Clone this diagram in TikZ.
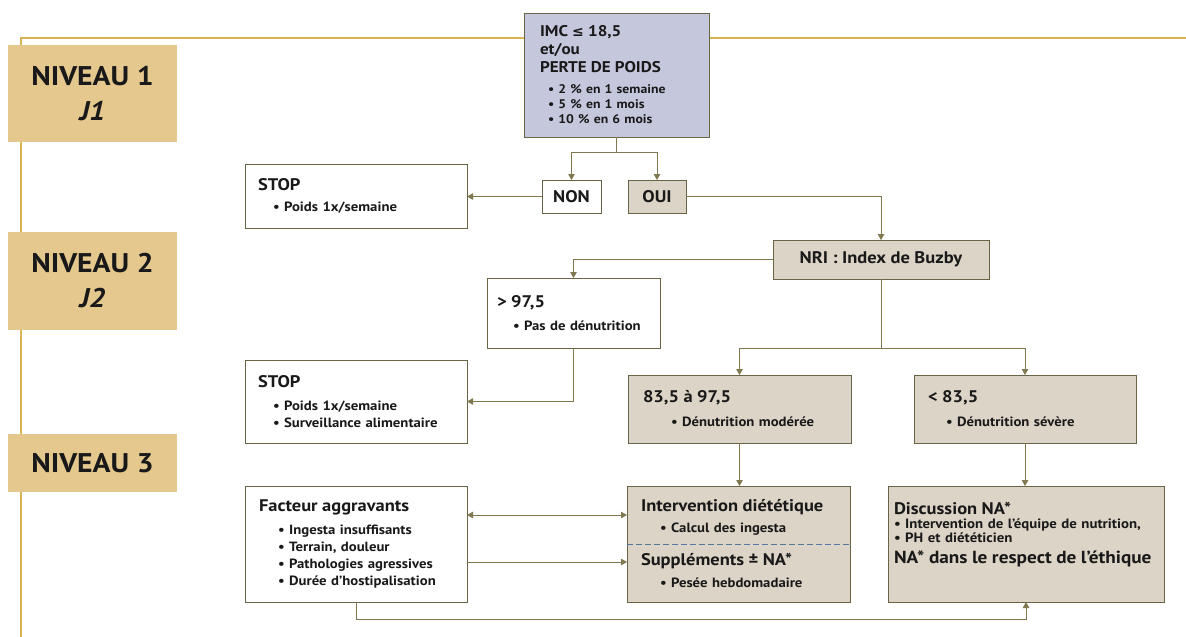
\documentclass[tikz,border=0pt]{standalone}
\usepackage{fontspec}
\setmainfont{PT Sans}[FakeStretch=1.1]
\newfontfamily\dejavu{DejaVu Sans}
\usetikzlibrary{arrows.meta,calc}
\definecolor{gold}{RGB}{214,180,86}
\definecolor{tanf}{RGB}{229,200,142}
\definecolor{lav}{RGB}{197,199,221}
\definecolor{beige}{RGB}{220,212,198}
\definecolor{olive}{RGB}{128,120,78}
\definecolor{bord}{RGB}{105,100,70}
\definecolor{txt}{RGB}{25,25,25}
\definecolor{dashblue}{RGB}{80,120,160}
\newcommand\ttl[1]{{\fontsize{16.8}{17}\selectfont\bfseries #1}}
\newcommand\ittl[1]{{\fontsize{15.5}{17}\selectfont\bfseries #1}}
\newcommand\bx[8]{%
 \pgfmathsetmacro\bw{#5-#3}%
 \pgfmathsetmacro\bh{#6-#4}%
 \pgfmathsetmacro\tw{#5-#3-2*#7}%
 \node[align=left,#1,anchor=north west,minimum width=\bw pt,minimum height=\bh pt,text width=\tw pt,inner xsep=#7 pt,inner ysep=0pt] (#2) at (#3,#4) {#8};}
\begin{document}
\begin{tikzpicture}[x=1pt,y=-1pt,
 >={Triangle[length=6pt,width=6.5pt]},
 box/.style={draw=bord,line width=0.9pt,outer sep=0pt,text=txt,font=\fontsize{13.4}{17}\selectfont\bfseries},
 wbox/.style={box,fill=white},
 bbox/.style={box,fill=beige},
 lbox/.style={box,fill=lav},
 lvl/.style={fill=tanf,draw=none,text=txt,font=\fontsize{27}{35}\selectfont\bfseries,align=center,anchor=north west,inner sep=0pt,outer sep=0pt},
 conn/.style={draw=olive,line width=1pt},
 arr/.style={conn,->},
 darr/.style={conn,<->},
 dashline/.style={draw=dashblue,line width=0.8pt,dash pattern=on 6pt off 3pt}]
\useasboundingbox (0,0) rectangle (1186,637);
\fill[white] (0,0) rectangle (1186,637);
% frame lines
\draw[gold,line width=1.6pt] (21,637) -- (21,38) -- (1186,38);
% level labels
\node[lvl,minimum width=169pt,minimum height=97pt] (n1) at (8,45) {NIVEAU 1\\\textit{J1}};
\node[lvl,minimum width=169pt,minimum height=98pt] (n2) at (8,232) {NIVEAU 2\\\textit{J2}};
\node[lvl,minimum width=169pt,minimum height=58pt] (n3) at (8,434) {NIVEAU 3};
% boxes
\bx{lbox,font=\fontsize{12.5}{15}\selectfont\bfseries}{imc}{524}{13}{709}{137}{16}{\ittl{IMC {\dejavu\fontsize{14}{15}\selectfont ≤} 18,5}\\[3pt]\ittl{et/ou}\\[3pt]\ittl{PERTE DE POIDS}\\[6pt]\hspace*{8pt}• 2 \% en 1 semaine\\\hspace*{8pt}• 5 \% en 1 mois\\\hspace*{8pt}• 10 \% en 6 mois}
\bx{wbox,align=center}{non}{542}{180}{601}{213}{0}{\ttl{NON}}
\bx{bbox,align=center}{oui}{628}{180}{686}{213}{0}{\ttl{OUI}}
\bx{wbox}{stop1}{245}{164}{467}{228}{13}{\ttl{STOP}\\[4pt]\hspace*{15pt}• Poids 1x/semaine}
\bx{bbox,align=center}{nri}{773}{240}{989}{279}{0}{\ttl{NRI : Index de Buzby}}
\bx{wbox}{gt}{487}{278}{660}{348}{10}{\ttl{> 97,5}\\[6pt]\hspace*{16pt}• Pas de dénutrition}
\bx{wbox}{stop2}{245}{360}{467}{443}{13}{\ttl{STOP}\\[6pt]\hspace*{15pt}• Poids 1x/semaine\\\hspace*{15pt}• Surveillance alimentaire}
\bx{bbox}{mid}{628}{375}{851}{443}{15}{\ttl{83,5 à 97,5}\\[7pt]\hspace*{28pt}• Dénutrition modérée}
\bx{bbox}{low}{914}{375}{1136}{443}{14}{\ttl{< 83,5}\\[7pt]\hspace*{18pt}• Dénutrition sévère}
\bx{wbox}{fa}{245}{486}{467}{602}{14}{\ttl{Facteur aggravants}\\[6pt]\hspace*{19pt}• Ingesta insuffisants\\\hspace*{19pt}• Terrain, douleur\\\hspace*{19pt}• Pathologies agressives\\\hspace*{19pt}• Durée d'hostipalisation}
\bx{bbox}{iv}{627}{486}{850}{602}{14}{\ttl{Intervention diététique}\\[4pt]\hspace*{19pt}• Calcul des ingesta\\[16pt]\ttl{Suppléments ± NA*}\\[5pt]\hspace*{19pt}• Pesée hebdomadaire}
\bx{bbox,font=\fontsize{13.5}{14}\selectfont\bfseries}{di}{888}{486}{1164}{602}{6}{\ttl{Discussion NA*}\\• Intervention de l'équipe de nutrition,\\• PH et diététicien\\[7pt]{\fontsize{17.5}{17}\selectfont NA* dans le respect de l'éthique}\\[8pt]\mbox{}}
\draw[dashline] (iv.west) -- (iv.east);
% connectors
\coordinate (j1) at ($(imc.south)+(0,-15pt)$);
\draw[conn] (imc.south) -- (j1);
\draw[arr] (j1) -| (non.north);
\draw[arr] (j1) -| (oui.north);
\draw[arr] (non.west) -- (non.west -| stop1.east);
\draw[arr] (oui.east) -| (nri.north);
\draw[arr] (nri.west) -| (gt.north);
\draw[arr] (gt.south) |- (stop2.east);
\coordinate (j2) at ($(nri.south)+(0,-69pt)$);
\draw[conn] (nri.south) -- (j2);
\draw[arr] (j2) -| (mid.north);
\draw[arr] (j2) -| (low.north);
\draw[arr] (mid.south) -- (mid.south |- iv.north);
\draw[arr] (low.south) -- (low.south |- di.north);
\draw[darr] ([yshift=29pt]fa.east) -- ([yshift=29pt]fa.east -| iv.west);
\draw[arr] ([yshift=-18pt]fa.east) -- ([yshift=-18pt]fa.east -| iv.west);
\draw[arr] (fa.south) -- ([yshift=-17pt]fa.south) -| (di.south);
\end{tikzpicture}
\end{document}
